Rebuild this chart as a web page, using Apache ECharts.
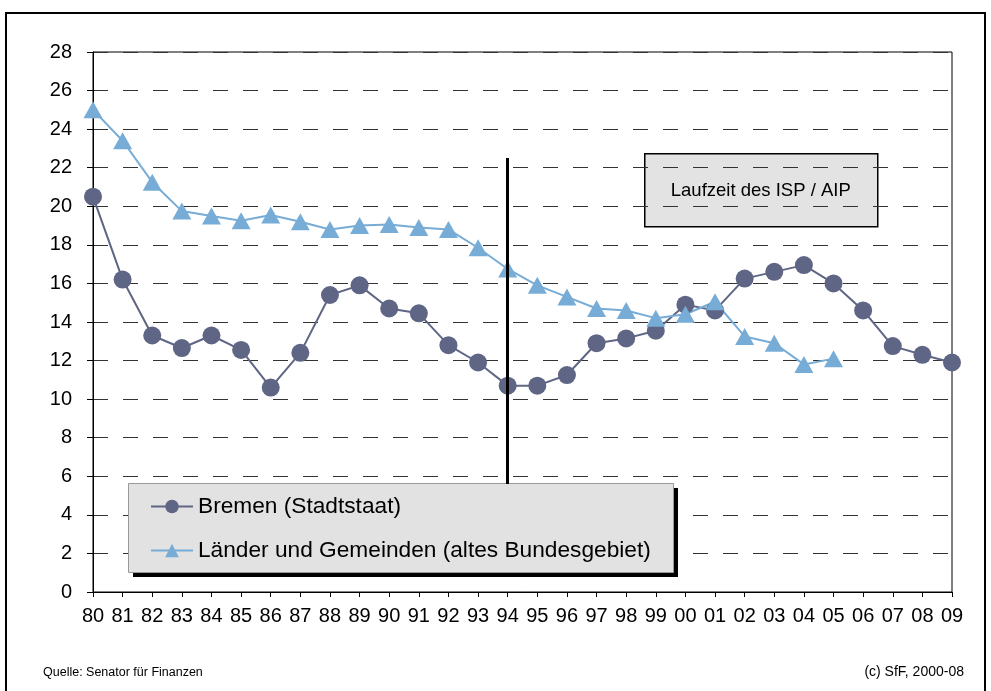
<!DOCTYPE html>
<html>
<head>
<meta charset="utf-8">
<script src="https://cdn.jsdelivr.net/npm/echarts@6/dist/echarts.min.js"></script>
<style>
    html, body { margin: 0; padding: 0; background: #ffffff; }
    #chart { width: 991px; height: 691px; }
</style>
</head>
<body>
<div id="chart"></div>
<script>
    // Jahre 1980 - 2009
    const years = ['80', '81', '82', '83', '84', '85', '86', '87', '88', '89',
        '90', '91', '92', '93', '94', '95', '96', '97', '98', '99',
        '00', '01', '02', '03', '04', '05', '06', '07', '08', '09'];

    const bremen = [20.5, 16.2, 13.3, 12.65, 13.3, 12.55, 10.6, 12.4, 15.4, 15.9,
        14.7, 14.45, 12.8, 11.9, 10.7, 10.7, 11.25, 12.9, 13.15, 13.55,
        14.9, 14.6, 16.25, 16.6, 16.95, 16.0, 14.6, 12.75, 12.3, 11.9];

    const laender = [25.0, 23.4, 21.25, 19.75, 19.5, 19.25, 19.55, 19.2, 18.8, 19.0,
        19.05, 18.9, 18.8, 17.85, 16.75, 15.9, 15.3, 14.7, 14.6, 14.2,
        14.4, 15.05, 13.25, 12.9, 11.8, 12.1];

    const yTicks = [0, 28, 2]; // min, max, interval

    // Beginn ISP / AIP
    const ispYear = '94';
    const ispRange = [22.5, 5.6];

    const font = 'Liberation Sans, Arial, sans-serif';

    const chart = echarts.init(document.getElementById('chart'));
    chart.setOption({
        animation: false,
        textStyle: { fontFamily: font, color: '#000' },
        grid: {
            left: 93,
            right: 39,
            top: 52,
            bottom: 99,
            show: true,
            borderColor: '#000',
            borderWidth: 1,
        },
        // Legende (Kasten wird unten als graphic gezeichnet)
        legend: {
            orient: 'vertical',
            left: 128,
            top: 483,
            padding: [12, 18, 11, 22],
            itemGap: 21,
            itemWidth: 42,
            itemHeight: 17,
            textStyle: { fontSize: 22.7, fontFamily: font, color: '#000' },
            data: ['Bremen (Stadtstaat)', 'Länder und Gemeinden (altes Bundesgebiet)'],
        },
        xAxis: {
            type: 'category',
            boundaryGap: false,
            data: years,
            axisLine: { lineStyle: { color: '#000', width: 1 } },
            axisTick: { show: true, length: 5, interval: 0, lineStyle: { color: '#000' } },
            axisLabel: { interval: 0, fontSize: 20, margin: 14, color: '#000' },
            splitLine: { show: false },
        },
        yAxis: {
            type: 'value',
            min: yTicks[0],
            max: yTicks[1],
            interval: yTicks[2],
            axisLine: { show: true, lineStyle: { color: '#000', width: 1 } },
            axisTick: { show: true, length: 6, lineStyle: { color: '#000' } },
            axisLabel: { fontSize: 20, margin: 21, color: '#000' },
            splitLine: { lineStyle: { color: '#333', width: 1, type: [15, 15] } },
        },
        series: [
            {
                name: 'Bremen (Stadtstaat)',
                type: 'line',
                data: bremen,
                symbol: 'circle',
                symbolSize: 18,
                lineStyle: { color: '#5f6584', width: 2 },
                itemStyle: { color: '#5f6584' },
                markLine: {
                    silent: true,
                    symbol: 'none',
                    label: { show: false },
                    lineStyle: { color: '#000', width: 3, type: 'solid' },
                    data: [[
                        { coord: [ispYear, ispRange[0]] },
                        { coord: [ispYear, ispRange[1]] },
                    ]],
                },
            },
            {
                name: 'Länder und Gemeinden (altes Bundesgebiet)',
                type: 'line',
                data: laender,
                symbol: 'triangle',
                symbolSize: [19, 17],
                lineStyle: { color: '#77acd6', width: 2 },
                itemStyle: { color: '#77acd6' },
            },
        ],
        graphic: [
            // Rahmen
            {
                type: 'rect',
                z: -10,
                shape: { x: 6, y: 13, width: 979, height: 700 },
                style: { fill: 'none', stroke: '#000', lineWidth: 2 },
            },
            // Legendenkasten mit Schatten
            {
                type: 'rect',
                z: 3,
                shape: { x: 133, y: 488, width: 545, height: 89 },
                style: { fill: '#000' },
            },
            {
                type: 'rect',
                z: 3,
                shape: { x: 128.5, y: 483.5, width: 545, height: 89 },
                style: { fill: '#e2e2e2', stroke: '#999', lineWidth: 1 },
            },
            // Kasten "Laufzeit"
            {
                type: 'group',
                left: 644,
                top: 153,
                children: [
                    {
                        type: 'rect',
                        shape: { x: 0, y: 0, width: 233, height: 73 },
                        style: { fill: '#e3e3e3', stroke: '#000', lineWidth: 1.5 },
                    },
                    {
                        type: 'text',
                        x: 116,
                        y: 37,
                        style: {
                            text: 'Laufzeit des ISP / AIP',
                            font: '18.5px ' + font,
                            fill: '#000',
                            align: 'center',
                            verticalAlign: 'middle',
                        },
                    },
                ],
            },
            {
                type: 'text',
                left: 43,
                top: 666,
                style: { text: 'Quelle: Senator für Finanzen', font: '12.5px ' + font, fill: '#000' },
            },
            {
                type: 'text',
                right: 27,
                top: 665,
                style: { text: '(c) SfF, 2000-08', font: '14px ' + font, fill: '#000' },
            },
        ],
    });
</script>
</body>
</html>
